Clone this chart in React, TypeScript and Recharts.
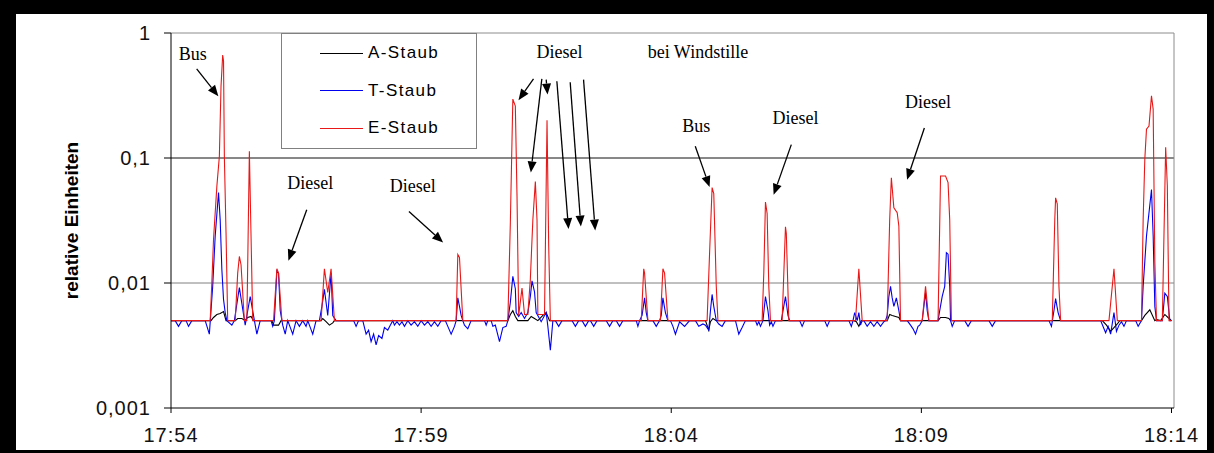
import { LineChart, Line, XAxis, YAxis, ReferenceLine, ReferenceDot, Legend } from 'recharts';

// seconds after 17:54:00, value (relative units)
const aStaub: [number, number][] = [
  [0, 0.005], [48, 0.005], [51, 0.0053], [55, 0.0056], [59, 0.0057], [63, 0.0059], [66, 0.005],
  [77, 0.005], [80, 0.0052], [85, 0.0052], [89, 0.005], [92, 0.0053], [96, 0.0054], [99, 0.005],
  [121, 0.005], [123, 0.0046], [129, 0.0046], [132, 0.005],
  [180, 0.005], [182, 0.0052], [186, 0.0049], [190, 0.0046], [194, 0.0048], [196, 0.005],
  [404, 0.005], [407, 0.0056], [410, 0.006], [413, 0.0054], [416, 0.005], [428, 0.005], [432, 0.0054],
  [436, 0.0052], [440, 0.005], [446, 0.0055], [450, 0.0058], [454, 0.005],
  [641, 0.005], [645, 0.0042], [647, 0.0049], [650, 0.0052], [654, 0.005],
  [819, 0.005], [822, 0.0049], [825, 0.0045], [828, 0.005],
  [859, 0.005], [862, 0.0056], [865, 0.0055], [869, 0.0054], [873, 0.0053], [875, 0.005],
  [920, 0.005], [923, 0.0053], [929, 0.0053], [933, 0.0052], [935, 0.005],
  [1117, 0.005], [1122, 0.0046], [1127, 0.0041], [1131, 0.0044], [1135, 0.0047], [1138, 0.005],
  [1164, 0.005], [1168, 0.0055], [1174, 0.0061], [1180, 0.005], [1182, 0.0051], [1187, 0.005],
  [1192, 0.0056], [1197, 0.0052], [1200, 0.005],
];

const tStaub: [number, number][] = [
  [0, 0.005], [5, 0.005], [9, 0.0045], [13, 0.005], [18, 0.005], [21, 0.0045], [25, 0.005],
  [41, 0.005], [46, 0.0039], [50, 0.0094], [53, 0.0237], [57, 0.053], [59, 0.032], [61, 0.0128],
  [63, 0.0074], [65, 0.0058], [67, 0.005],
  [73, 0.0046], [76, 0.005], [82, 0.0092], [89, 0.0046], [95, 0.0078], [101, 0.0046], [103, 0.0039], [107, 0.005],
  [120, 0.005], [122, 0.0045], [124, 0.005], [127, 0.0125], [129, 0.012], [131, 0.006], [134, 0.0046],
  [137, 0.0039], [140, 0.005], [146, 0.0039], [150, 0.005], [154, 0.0045], [158, 0.005], [162, 0.0045],
  [164, 0.005], [170, 0.0039], [174, 0.005],
  [178, 0.005], [181, 0.0065], [184, 0.0089], [188, 0.0055], [192, 0.012], [194, 0.0055], [198, 0.005],
  [219, 0.005], [222, 0.0045], [225, 0.005],
  [230, 0.005], [234, 0.0039], [237, 0.0042], [240, 0.0034], [243, 0.0039], [246, 0.0032], [249, 0.0038],
  [253, 0.0036], [256, 0.0044], [260, 0.0042], [263, 0.0046], [266, 0.005],
  [268, 0.0046], [271, 0.0049], [274, 0.0046], [277, 0.0049], [280, 0.0045], [284, 0.005], [288, 0.0046],
  [292, 0.0049], [296, 0.0045], [300, 0.005], [304, 0.0046], [308, 0.0049], [312, 0.0045], [316, 0.0049],
  [320, 0.0045], [324, 0.005],
  [329, 0.005], [332, 0.0045], [336, 0.0039], [340, 0.0045], [342, 0.005], [344, 0.0076], [346, 0.0065],
  [348, 0.0055], [350, 0.005], [352, 0.0046], [356, 0.0043], [360, 0.005],
  [376, 0.005], [378, 0.0046], [380, 0.005],
  [384, 0.005], [386, 0.0045], [389, 0.0046], [394, 0.0034], [398, 0.0044], [402, 0.0045], [404, 0.005],
  [407, 0.007], [410, 0.0113], [413, 0.009], [414, 0.0058], [417, 0.0054], [420, 0.0058], [424, 0.0052],
  [428, 0.0058], [431, 0.0078], [433, 0.0104], [436, 0.0085], [438, 0.0058], [444, 0.0049], [450, 0.0058],
  [452, 0.0045], [455, 0.0029], [458, 0.005],
  [461, 0.005], [465, 0.0045], [469, 0.005], [481, 0.005], [485, 0.0045], [489, 0.005], [493, 0.005],
  [497, 0.0045], [501, 0.005], [503, 0.005], [507, 0.0045], [511, 0.005], [522, 0.005], [526, 0.0045],
  [530, 0.005], [534, 0.005], [538, 0.0045], [542, 0.005],
  [558, 0.005], [560, 0.0045], [562, 0.005], [565, 0.0055], [568, 0.0076], [570, 0.0058], [572, 0.005],
  [578, 0.005], [582, 0.0045], [586, 0.005], [588, 0.0055], [590, 0.0076], [593, 0.0058], [596, 0.005],
  [599, 0.005], [602, 0.0045], [605, 0.0039], [610, 0.0049], [616, 0.0045], [622, 0.005], [629, 0.005],
  [633, 0.0045], [638, 0.0047], [641, 0.0046], [645, 0.0042], [647, 0.006], [649, 0.0081], [651, 0.0065],
  [654, 0.005],
  [657, 0.0047], [661, 0.0045], [665, 0.005], [677, 0.005], [681, 0.0039], [685, 0.0044], [689, 0.005],
  [701, 0.005], [703, 0.0046], [705, 0.0049], [707, 0.0045], [710, 0.005], [713, 0.0078], [716, 0.006],
  [718, 0.0046], [720, 0.0049], [722, 0.0045], [725, 0.005],
  [732, 0.005], [737, 0.0078], [740, 0.0055], [742, 0.005],
  [754, 0.005], [757, 0.0045], [760, 0.005], [784, 0.005], [787, 0.0045], [790, 0.005],
  [813, 0.005], [816, 0.0045], [818, 0.005], [820, 0.0058], [823, 0.005], [825, 0.0058], [827, 0.0046], [829, 0.005],
  [831, 0.005], [835, 0.0045], [839, 0.0049], [843, 0.0045], [847, 0.0049], [851, 0.0045], [855, 0.0049], [857, 0.005],
  [859, 0.0055], [861, 0.0078], [863, 0.0094], [865, 0.0076], [867, 0.0065], [870, 0.0076], [873, 0.006], [875, 0.005],
  [883, 0.005], [887, 0.0046], [890, 0.0043], [893, 0.0039], [896, 0.0045], [898, 0.0046], [901, 0.005],
  [905, 0.0084], [907, 0.006], [909, 0.005],
  [920, 0.005], [921, 0.0055], [925, 0.0078], [928, 0.0094], [930, 0.0175], [932, 0.017], [934, 0.0094],
  [935, 0.005], [937, 0.0045], [940, 0.005],
  [952, 0.005], [956, 0.0045], [960, 0.005], [981, 0.005], [985, 0.0045], [989, 0.005],
  [1053, 0.005], [1056, 0.0045], [1059, 0.006], [1061, 0.0075], [1064, 0.0058], [1067, 0.005],
  [1115, 0.005], [1121, 0.004], [1124, 0.0045], [1127, 0.0039], [1131, 0.0058], [1134, 0.0041],
  [1137, 0.0046], [1140, 0.0049], [1143, 0.0045], [1146, 0.005],
  [1157, 0.005], [1160, 0.0045], [1164, 0.005], [1166, 0.0094], [1170, 0.0237], [1176, 0.056], [1178, 0.024],
  [1180, 0.0065], [1182, 0.005], [1189, 0.005], [1192, 0.0083], [1195, 0.0078], [1198, 0.005], [1200, 0.005],
];

const eStaub: [number, number][] = [
  [0, 0.005], [47, 0.005], [49, 0.0101], [51, 0.0223], [55, 0.0593], [58, 0.103], [60, 0.376], [62, 0.667],
  [63, 0.6], [64, 0.103], [66, 0.0254], [68, 0.005],
  [77, 0.005], [80, 0.012], [82, 0.0163], [84, 0.014], [88, 0.005], [91, 0.005], [94, 0.113], [98, 0.005],
  [123, 0.005], [127, 0.013], [129, 0.012], [133, 0.005],
  [180, 0.005], [184, 0.013], [188, 0.0084], [192, 0.013], [196, 0.005],
  [342, 0.005], [344, 0.0169], [346, 0.016], [350, 0.005],
  [404, 0.005], [407, 0.03], [410, 0.296], [413, 0.26], [415, 0.05], [417, 0.0055], [421, 0.0091],
  [424, 0.0056], [428, 0.0056], [431, 0.0107], [434, 0.032], [437, 0.0647], [439, 0.032], [440, 0.0056],
  [448, 0.0056], [451, 0.2], [453, 0.02], [455, 0.005],
  [564, 0.005], [567, 0.013], [568, 0.012], [572, 0.005],
  [587, 0.005], [590, 0.013], [592, 0.012], [596, 0.005],
  [643, 0.005], [646, 0.0175], [649, 0.058], [651, 0.052], [654, 0.0094], [656, 0.005],
  [709, 0.005], [711, 0.012], [713, 0.0444], [715, 0.036], [717, 0.0094], [719, 0.005],
  [733, 0.005], [737, 0.0282], [738, 0.025], [741, 0.005],
  [821, 0.005], [825, 0.013], [829, 0.005],
  [859, 0.005], [862, 0.032], [864, 0.0696], [867, 0.04], [871, 0.0365], [873, 0.0285], [875, 0.005],
  [901, 0.005], [905, 0.0094], [909, 0.005],
  [920, 0.005], [923, 0.0718], [929, 0.0718], [932, 0.0635], [934, 0.032], [936, 0.005],
  [1057, 0.005], [1060, 0.032], [1061, 0.048], [1063, 0.043], [1065, 0.0094], [1067, 0.005],
  [1125, 0.005], [1131, 0.013], [1135, 0.005],
  [1164, 0.005], [1166, 0.032], [1168, 0.098], [1170, 0.17], [1173, 0.18], [1176, 0.314], [1178, 0.246],
  [1180, 0.015], [1182, 0.005],
  [1189, 0.005], [1193, 0.122], [1195, 0.06], [1197, 0.005], [1200, 0.005],
];

const seriesNames = ['A-Staub', 'T-Staub', 'E-Staub'];
const timeTicks = [0, 300, 600, 900, 1200];
const valueTicks = [0.001, 0.01, 0.1, 1];

// annotation texts and arrows, placed in chart (seconds, value) coordinates
const noteTexts = [
  { t: 26, v: 0.685, text: 'Bus' },
  { t: 167, v: 0.0634, text: 'Diesel' },
  { t: 290, v: 0.06, text: 'Diesel' },
  { t: 466, v: 0.711, text: 'Diesel' },
  { t: 632, v: 0.711, text: 'bei Windstille' },
  { t: 630, v: 0.18, text: 'Bus' },
  { t: 749, v: 0.21, text: 'Diesel' },
  { t: 908, v: 0.283, text: 'Diesel' },
];

const noteArrows = [
  { t1: 30.8, v1: 0.516, t2: 56.8, v2: 0.312 },
  { t1: 162.8, v1: 0.0385, t2: 140.8, v2: 0.0151 },
  { t1: 285.4, v1: 0.0373, t2: 326.4, v2: 0.0211 },
  { t1: 434.8, v1: 0.43, t2: 416.8, v2: 0.29 },
  { t1: 444.8, v1: 0.43, t2: 431.6, v2: 0.0767 },
  { t1: 450, v1: 0.424, t2: 451.6, v2: 0.322 },
  { t1: 462.8, v1: 0.411, t2: 476.8, v2: 0.027 },
  { t1: 478.8, v1: 0.404, t2: 491.6, v2: 0.0283 },
  { t1: 494.8, v1: 0.424, t2: 508.8, v2: 0.0263 },
  { t1: 628.8, v1: 0.124, t2: 646, v2: 0.0586 },
  { t1: 744, v1: 0.128, t2: 722.8, v2: 0.0508 },
  { t1: 903.6, v1: 0.174, t2: 882.8, v2: 0.067 },
];

const toRows = (pts: [number, number][]) => pts.map(([t, v]) => ({ t, v }));

const formatTime = (t: number) => {
  const mins = 17 * 60 + 54 + Math.round(t / 60);
  return `${Math.floor(mins / 60)}:${String(mins % 60).padStart(2, '0')}`;
};

const formatValue = (v: number) => String(v).replace('.', ',');

const Arrow = (props: any) => {
  const { x1, y1, x2, y2 } = props;
  const ang = Math.atan2(y2 - y1, x2 - x1);
  const len = 11;
  const half = 4.5;
  const bx = x2 - len * Math.cos(ang);
  const by = y2 - len * Math.sin(ang);
  const pts = `${x2},${y2} ${bx + half * Math.sin(ang)},${by - half * Math.cos(ang)} ${bx - half * Math.sin(ang)},${by + half * Math.cos(ang)}`;
  return (
    <g>
      <line x1={x1} y1={y1} x2={bx} y2={by} stroke="#000" strokeWidth={1.3} />
      <polygon points={pts} fill="#000" />
    </g>
  );
};

const LegendBox = (props: any) => {
  const items = [...(props.payload || [])].sort(
    (a: any, b: any) => seriesNames.indexOf(a.value) - seriesNames.indexOf(b.value)
  );
  return (
    <div
      style={{
        width: 196,
        height: 116,
        border: '1px solid #808080',
        boxSizing: 'border-box',
        background: '#fff',
        position: 'relative',
        fontFamily: '"Liberation Sans", Arial, sans-serif',
        fontSize: 17,
        letterSpacing: 1.4,
        color: '#000',
      }}
    >
      {items.map((p: any, i: number) => (
        <div
          key={p.value}
          style={{ position: 'absolute', left: 38, top: 8 + i * 37.5, height: 22, display: 'flex', alignItems: 'center' }}
        >
          <span style={{ display: 'inline-block', width: 43, borderTop: `1px solid ${p.color}` }} />
          <span style={{ marginLeft: 5 }}>{p.value}</span>
        </div>
      ))}
    </div>
  );
};

const tickStyle = { fill: '#111', fontSize: 20, fontFamily: '"Liberation Sans", Arial, sans-serif', letterSpacing: 1 };

export default function App() {
  return (
    <div style={{ position: 'absolute', left: 0, top: 0, width: 1214, height: 453, background: '#fff' }}>
      <LineChart width={1214} height={453} margin={{ top: 33, right: 40, bottom: 5, left: 16 }}>
        <XAxis
          type="number"
          dataKey="t"
          domain={[0, 1203]}
          ticks={timeTicks}
          tickFormatter={formatTime}
          stroke="#000"
          tickSize={5}
          tickMargin={15}
          height={40}
          tick={tickStyle}
        />
        <YAxis
          scale="log"
          domain={[0.001, 1]}
          ticks={valueTicks}
          tickFormatter={formatValue}
          allowDataOverflow
          stroke="#000"
          tickSize={7}
          tickMargin={13}
          width={155}
          tick={tickStyle}
          label={{
            value: 'relative Einheiten',
            angle: -90,
            position: 'insideLeft',
            offset: 55,
            style: { textAnchor: 'middle', fontWeight: 'bold', fontSize: 19, fill: '#000', fontFamily: '"Liberation Sans", Arial, sans-serif' },
          }}
        />
        <ReferenceLine y={1} stroke="#8c8c8c" />
        <ReferenceLine y={0.1} stroke="#111" />
        <ReferenceLine y={0.01} stroke="#808080" />
        <ReferenceLine x={1203} stroke="#8c8c8c" />
        <Line data={toRows(aStaub)} dataKey="v" name={seriesNames[0]} stroke="#000000" strokeWidth={1.1} dot={false} type="linear" isAnimationActive={false} />
        <Line data={toRows(tStaub)} dataKey="v" name={seriesNames[1]} stroke="#0000ee" strokeWidth={1.1} dot={false} type="linear" isAnimationActive={false} />
        <Line data={toRows(eStaub)} dataKey="v" name={seriesNames[2]} stroke="#e81818" strokeWidth={1.1} dot={false} type="linear" isAnimationActive={false} />
        {noteArrows.map((a, i) => (
          <ReferenceLine key={`arrow-${i}`} segment={[{ x: a.t1, y: a.v1 }, { x: a.t2, y: a.v2 }]} shape={Arrow} />
        ))}
        {noteTexts.map((n, i) => (
          <ReferenceDot
            key={`note-${i}`}
            x={n.t}
            y={n.v}
            r={0}
            shape={(p: any) => (
              <text
                x={p.cx}
                y={p.cy}
                textAnchor="middle"
                dominantBaseline="central"
                fontFamily='"Liberation Serif", "Times New Roman", serif'
                fontSize={18}
                fill="#000"
              >
                {n.text}
              </text>
            )}
          />
        ))}
        <Legend
          layout="horizontal"
          align="center"
          verticalAlign="middle"
          wrapperStyle={{ left: 281, top: 33, width: 196, height: 116 }}
          content={LegendBox}
        />
      </LineChart>
      <div
        style={{
          position: 'absolute',
          left: 0,
          top: 0,
          width: 1214,
          height: 453,
          boxSizing: 'border-box',
          borderStyle: 'solid',
          borderColor: '#000',
          borderWidth: '14px 7px 3px 16px',
          pointerEvents: 'none',
        }}
      />
    </div>
  );
}
